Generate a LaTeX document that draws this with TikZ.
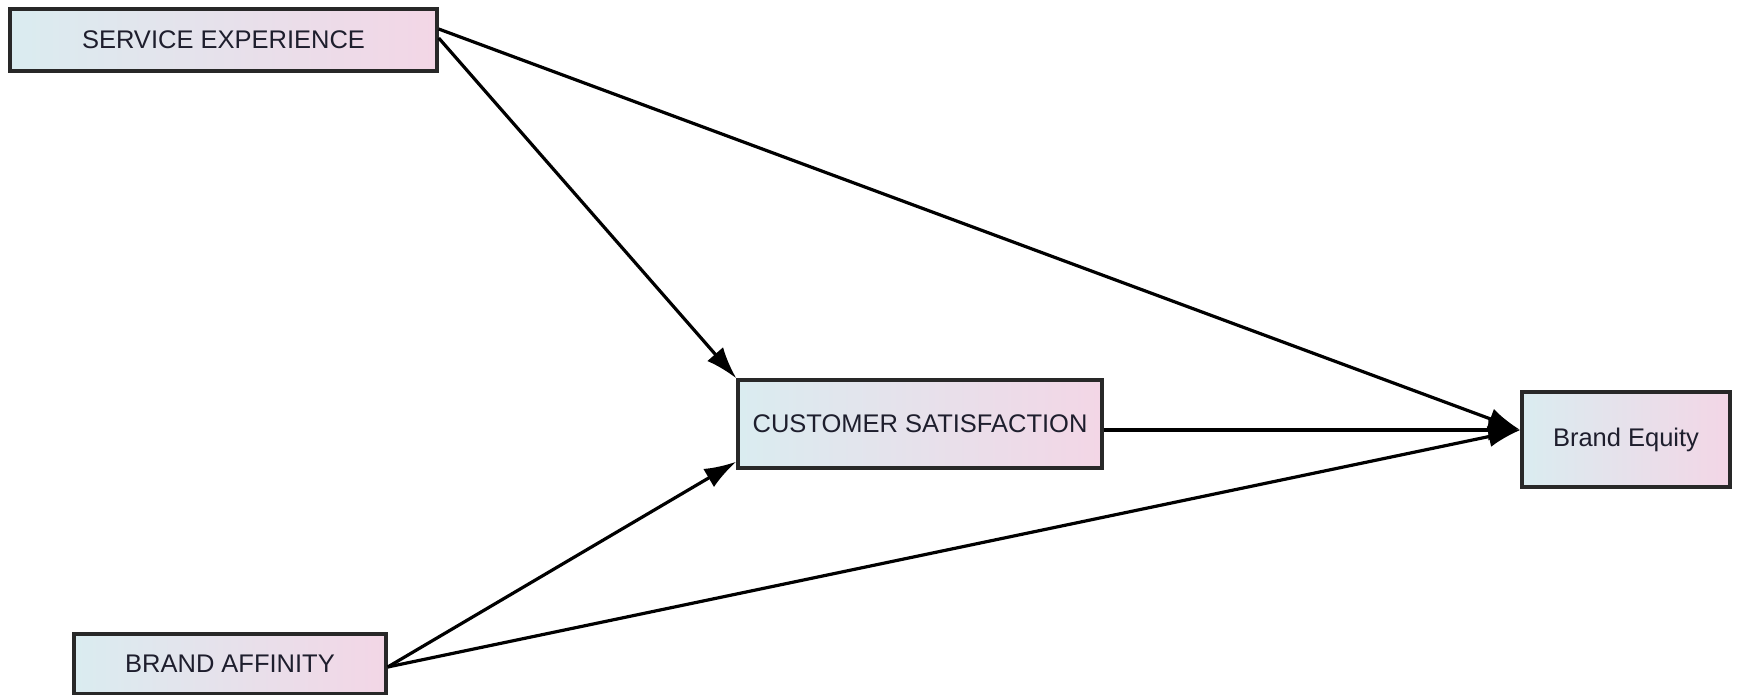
\documentclass[tikz,border=0pt]{standalone}
\usepackage{fontspec}
\setmainfont{Liberation Sans}
\usetikzlibrary{arrows.meta}
\definecolor{boxleft}{RGB}{218,236,240}
\definecolor{boxright}{RGB}{243,214,230}
\definecolor{boxline}{RGB}{40,40,40}
\definecolor{txt}{RGB}{30,30,45}
\tikzset{
  varbox/.style={draw=boxline, line width=3.4pt, left color=boxleft, right color=boxright,
    text=txt, font=\fontsize{25.5}{28}\selectfont, inner sep=0pt, anchor=center},
  path/.style={draw=black, line width=3.2pt, -{Latex[length=32pt,width=21pt]}}
}
\begin{document}
\begin{tikzpicture}[x=1pt,y=-1pt]
\useasboundingbox (0,0) rectangle (1737,695);
\node[varbox, minimum width=427pt, minimum height=62pt] (se) at (223.5,40) {SERVICE EXPERIENCE};
\node[varbox, minimum width=364pt, minimum height=88pt] (cs) at (920,424) {CUSTOMER SATISFACTION};
\node[varbox, minimum width=208pt, minimum height=95pt] (be) at (1626,439.5) {Brand Equity};
\node[varbox, minimum width=312pt, minimum height=60pt] (ba) at (230,664) {BRAND AFFINITY};
\draw[path] ([yshift=2pt]se.east) -- (cs.north west);
\draw[path] ([yshift=11pt]se.east) -- ([yshift=9.5pt]be.west);
\draw[path] ([yshift=-6pt]cs.east) -- ([yshift=9.5pt]be.west);
\draw[path] ([yshift=-3pt]ba.east) -- ([yshift=8pt]cs.south west);
\draw[path] ([yshift=-3pt]ba.east) -- ([yshift=9.5pt]be.west);
\end{tikzpicture}
\end{document}
